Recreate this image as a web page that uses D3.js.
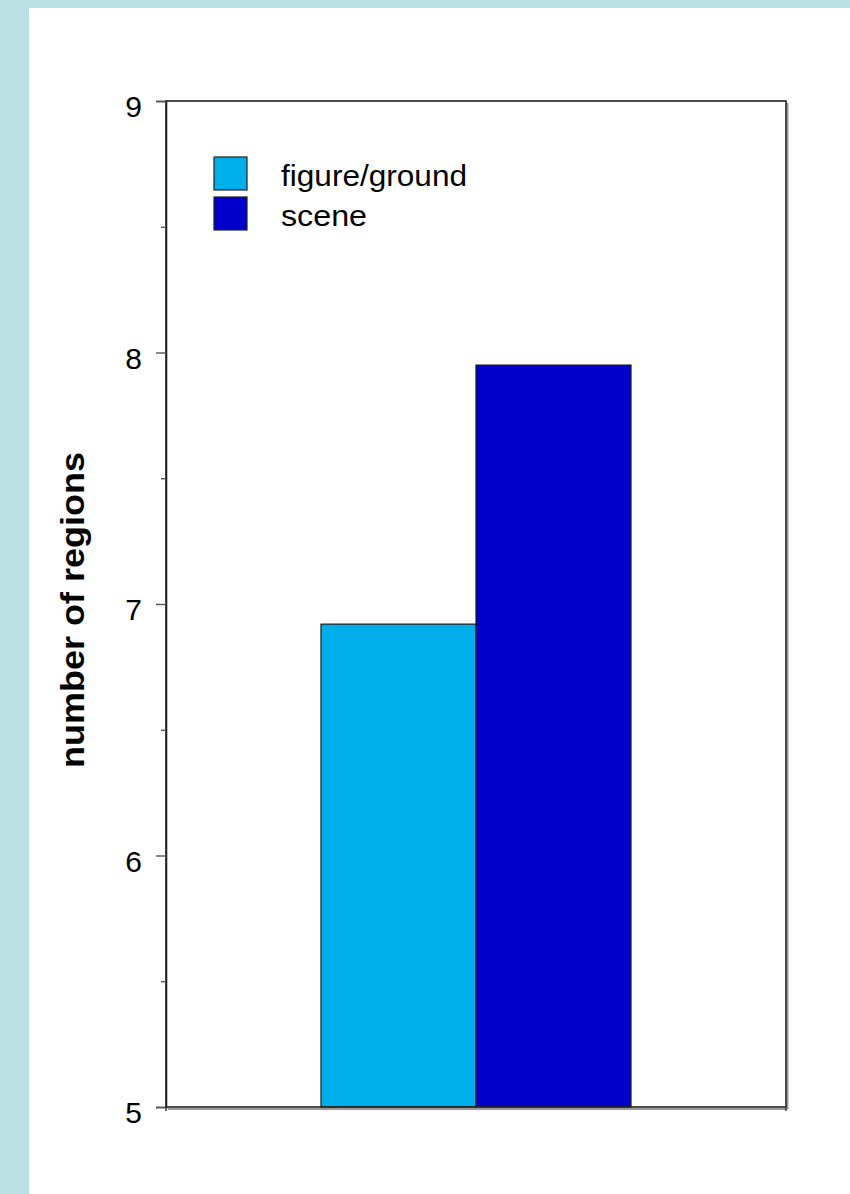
<!DOCTYPE html>
<html>
<head>
<meta charset="utf-8">
<script src="https://cdn.jsdelivr.net/npm/d3@7"></script>
<style>
  html, body { margin: 0; padding: 0; background: #BBE0E3; }
  svg { display: block; font-family: "Liberation Sans", Arial, sans-serif; }
</style>
</head>
<body>
<svg id="chart" width="850" height="1194"></svg>
<script>
// Data
const categories = [""];
const seriesNames = ["figure/ground", "scene"];
const seriesValues = [6.92, 7.95];
const seriesColors = ["#00AEEA", "#0000CD"];
const yTicks = [5, 6, 7, 8, 9];
const yMinorTicks = [5.5, 6.5, 7.5, 8.5];
const yLabel = "number of regions";

const svg = d3.select("#chart");

// Slide panel
svg.append("rect").attr("x", 0).attr("y", 0).attr("width", 850).attr("height", 1194).attr("fill", "#BBE0E3");
svg.append("rect").attr("x", 29).attr("y", 8).attr("width", 821).attr("height", 1186).attr("fill", "#FFFFFF");

const plot = { left: 166, top: 101, right: 786, bottom: 1107 };

const y = d3.scaleLinear().domain([5, 9]).range([plot.bottom, plot.top]);
const x0 = d3.scaleBand().domain(categories).range([plot.left, plot.right]).paddingInner(0).paddingOuter(0.5);
const x1 = d3.scaleBand().domain(seriesNames).range([0, x0.bandwidth()]);

// Frame shadow
svg.append("line").attr("x1", plot.left + 2).attr("x2", plot.right + 1.5).attr("y1", plot.bottom + 2).attr("y2", plot.bottom + 2)
  .attr("stroke", "#9a9a9a").attr("stroke-width", 2);
svg.append("line").attr("x1", plot.right + 1.5).attr("x2", plot.right + 1.5).attr("y1", plot.top + 2).attr("y2", plot.bottom + 2)
  .attr("stroke", "#9a9a9a").attr("stroke-width", 2);

// Bars
const g = svg.append("g");
g.selectAll("rect.bar")
  .data(seriesValues.map((v, i) => ({ name: seriesNames[i], value: v, color: seriesColors[i] })))
  .join("rect")
  .attr("class", "bar")
  .attr("x", d => x0(categories[0]) + x1(d.name))
  .attr("y", d => y(d.value))
  .attr("width", x1.bandwidth())
  .attr("height", d => y(5) - y(d.value))
  .attr("fill", d => d.color)
  .attr("stroke", "#1a1a1a")
  .attr("stroke-width", 1.2);

// Frame
svg.append("rect")
  .attr("x", plot.left).attr("y", plot.top)
  .attr("width", plot.right - plot.left).attr("height", plot.bottom - plot.top)
  .attr("fill", "none").attr("stroke", "#222").attr("stroke-width", 1.6);

// Y axis: major ticks with labels, minor ticks
const yAxis = d3.axisLeft(y).tickValues(yTicks).tickSize(10).tickFormat(d3.format("d"));
const ay = svg.append("g").attr("transform", `translate(${plot.left},0)`).call(yAxis);
ay.select(".domain").attr("stroke", "#222").attr("stroke-width", 1.6);
ay.selectAll(".tick line").attr("stroke", "#555").attr("stroke-width", 1.4);
ay.selectAll(".tick text")
  .attr("x", -24).attr("dy", "0.52em")
  .attr("font-size", 30).attr("fill", "#000")
  .attr("font-family", "'Liberation Sans', Arial, sans-serif");

const yMinor = d3.axisLeft(y).tickValues(yMinorTicks).tickSize(5).tickFormat("");
const am = svg.append("g").attr("transform", `translate(${plot.left},0)`).call(yMinor);
am.select(".domain").remove();
am.selectAll(".tick line").attr("stroke", "#555").attr("stroke-width", 1.4);

// X axis: category boundary ticks
const xEdges = [plot.left, plot.right];
svg.selectAll("line.xtick").data(xEdges).join("line")
  .attr("class", "xtick")
  .attr("x1", d => d).attr("x2", d => d)
  .attr("y1", plot.bottom).attr("y2", plot.bottom + 4)
  .attr("stroke", "#333").attr("stroke-width", 1.4);

// Y axis title
svg.append("text")
  .attr("transform", `translate(84, 610) rotate(-90)`)
  .attr("text-anchor", "middle")
  .attr("font-size", 33)
  .attr("font-weight", "bold")
  .attr("textLength", 316)
  .attr("lengthAdjust", "spacingAndGlyphs")
  .text(yLabel);

// Legend
const legend = svg.append("g");
const legendItems = seriesNames.map((n, i) => ({ name: n, color: seriesColors[i], i }));
legend.selectAll("rect").data(legendItems).join("rect")
  .attr("x", 214).attr("y", d => 157 + d.i * 40)
  .attr("width", 33).attr("height", 33)
  .attr("fill", d => d.color)
  .attr("stroke", "#222").attr("stroke-width", 1.2);
legend.selectAll("text").data(legendItems).join("text")
  .attr("x", 281).attr("y", d => 186 + d.i * 40)
  .attr("font-size", 29)
  .attr("textLength", d => d.i === 0 ? 186 : 86)
  .attr("lengthAdjust", "spacingAndGlyphs")
  .attr("fill", "#000")
  .text(d => d.name);
</script>
</body>
</html>
